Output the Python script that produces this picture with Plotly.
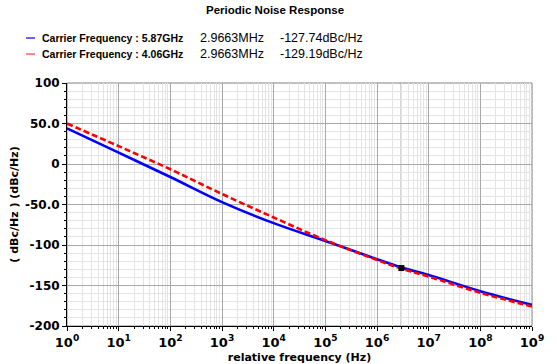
import plotly.graph_objects as go

# ---- data ----
freq = [1, 10, 100, 1e3, 1e4, 1e5, 1e6, 2.9663e6, 1e7, 1e8, 1e9]
blue_vals = [44, 14, -16, -47, -73, -95, -117.5, -127.74, -137, -157, -174]
red_vals = [50, 22, -6.5, -37, -66, -94, -118.5, -129.19, -139, -159, -176]
blue_name = "Carrier Frequency : 5.87GHz"
red_name = "Carrier Frequency : 4.06GHz"
cursor_freq = 2.9663e6
cursor_label = "2.9663MHz"
blue_cursor = "-127.74dBc/Hz"
red_cursor = "-129.19dBc/Hz"
x_exps = list(range(0, 10))
y_ticks = [100, 50, 0, -50, -100, -150, -200]
y_ticktext = ["100", "50.0", "0", "-50.0", "-100", "-150", "-200"]

FONT = "DejaVu Sans"
HFONT = "Liberation Sans"

fig = go.Figure()
fig.add_trace(go.Scatter(x=freq, y=blue_vals, mode="lines",
                         line=dict(color="#0000ff", width=2.6, shape="spline", smoothing=1.0),
                         showlegend=False))
fig.add_trace(go.Scatter(x=freq, y=red_vals, mode="lines",
                         line=dict(color="#ff0000", width=2.6, dash="6px,3px", shape="spline", smoothing=1.0),
                         showlegend=False))
fig.add_trace(go.Scatter(x=[cursor_freq], y=[(blue_vals[7] + red_vals[7]) / 2], mode="markers",
                         marker=dict(symbol="square", color="black", size=6), showlegend=False))

minor_vals = [m * 10 ** e for e in range(0, 9) for m in range(2, 10)]

fig.update_xaxes(type="log", range=[0, 9], automargin=False,
                 tickvals=[10 ** e for e in x_exps],
                 ticktext=[f"10<sup>{e}</sup>" for e in x_exps],
                 ticks="outside", ticklen=4, tickcolor="black",
                 showline=True, linecolor="black", linewidth=1,
                 showgrid=True, gridcolor="#a8a8a8", gridwidth=1,
                 minor=dict(tickmode="array", tickvals=minor_vals, ticks="outside", ticklen=2,
                            tickcolor="black", showgrid=True, gridcolor="#e4e4e4", gridwidth=1),
                 tickfont=dict(family=FONT, size=13, color="black", weight="bold"),
                 title=dict(text="relative frequency (Hz)",
                            font=dict(family=FONT, size=11, color="black", weight="bold"), standoff=4),
                 zeroline=False)
fig.update_yaxes(range=[-200, 100], automargin=False, tickvals=y_ticks, ticktext=y_ticktext,
                 ticks="outside", ticklen=4, tickcolor="black",
                 showline=True, linecolor="black", linewidth=1,
                 showgrid=True, gridcolor="#a8a8a8", gridwidth=1,
                 minor=dict(dtick=10, ticks="outside", ticklen=2, tickcolor="black",
                            showgrid=True, gridcolor="#e4e4e4", gridwidth=1),
                 tickfont=dict(family=FONT, size=12, color="black", weight="bold"),
                 title=dict(text="( dBc/Hz ) (dBc/Hz)",
                            font=dict(family=FONT, size=11, color="black", weight="bold"), standoff=4),
                 zeroline=False)

# frame and cursor line
fig.add_shape(type="rect", xref="paper", yref="paper", x0=0, x1=1, y0=0, y1=1,
              line=dict(color="#808080", width=1), layer="below")
fig.add_shape(type="line", xref="x", yref="paper", x0=cursor_freq, x1=cursor_freq, y0=0, y1=1,
              line=dict(color="#333333", width=1.2), layer="below")

W, H = 557, 364
L, R, T, B = 67, 25, 83, 38
pw, ph = W - L - R, H - T - B


def px(x):
    return (x - L) / pw


def py(y):
    return 1 - (y - T) / ph


fig.add_annotation(text="Periodic Noise Response", x=px(275), y=py(10), xref="paper", yref="paper",
                   showarrow=False, font=dict(family=HFONT, size=11.5, color="black", weight="bold"),
                   xanchor="center", yanchor="middle")
rows = [(blue_name, "#3030ff", blue_cursor, 38), (red_name, "#ff6060", red_cursor, 54)]
for name, col, val, yy in rows:
    fig.add_shape(type="line", xref="paper", yref="paper", x0=px(26), x1=px(35), y0=py(yy), y1=py(yy),
                  line=dict(color=col, width=1.5))
    fig.add_annotation(text=name, x=px(40), y=py(yy), xref="paper", yref="paper", showarrow=False,
                       xanchor="left", yanchor="middle",
                       font=dict(family=HFONT, size=10.5, color="black", weight="bold"))
    fig.add_annotation(text=cursor_label, x=px(198), y=py(yy), xref="paper", yref="paper", showarrow=False,
                       xanchor="left", yanchor="middle", font=dict(family=HFONT, size=12.5, color="black"))
    fig.add_annotation(text=val, x=px(278), y=py(yy), xref="paper", yref="paper", showarrow=False,
                       xanchor="left", yanchor="middle", font=dict(family=HFONT, size=12.5, color="black"))

fig.update_layout(width=W, height=H, margin=dict(l=L, r=R, t=T, b=B),
                  plot_bgcolor="white", paper_bgcolor="white", showlegend=False)

fig.write_html("out.html")
